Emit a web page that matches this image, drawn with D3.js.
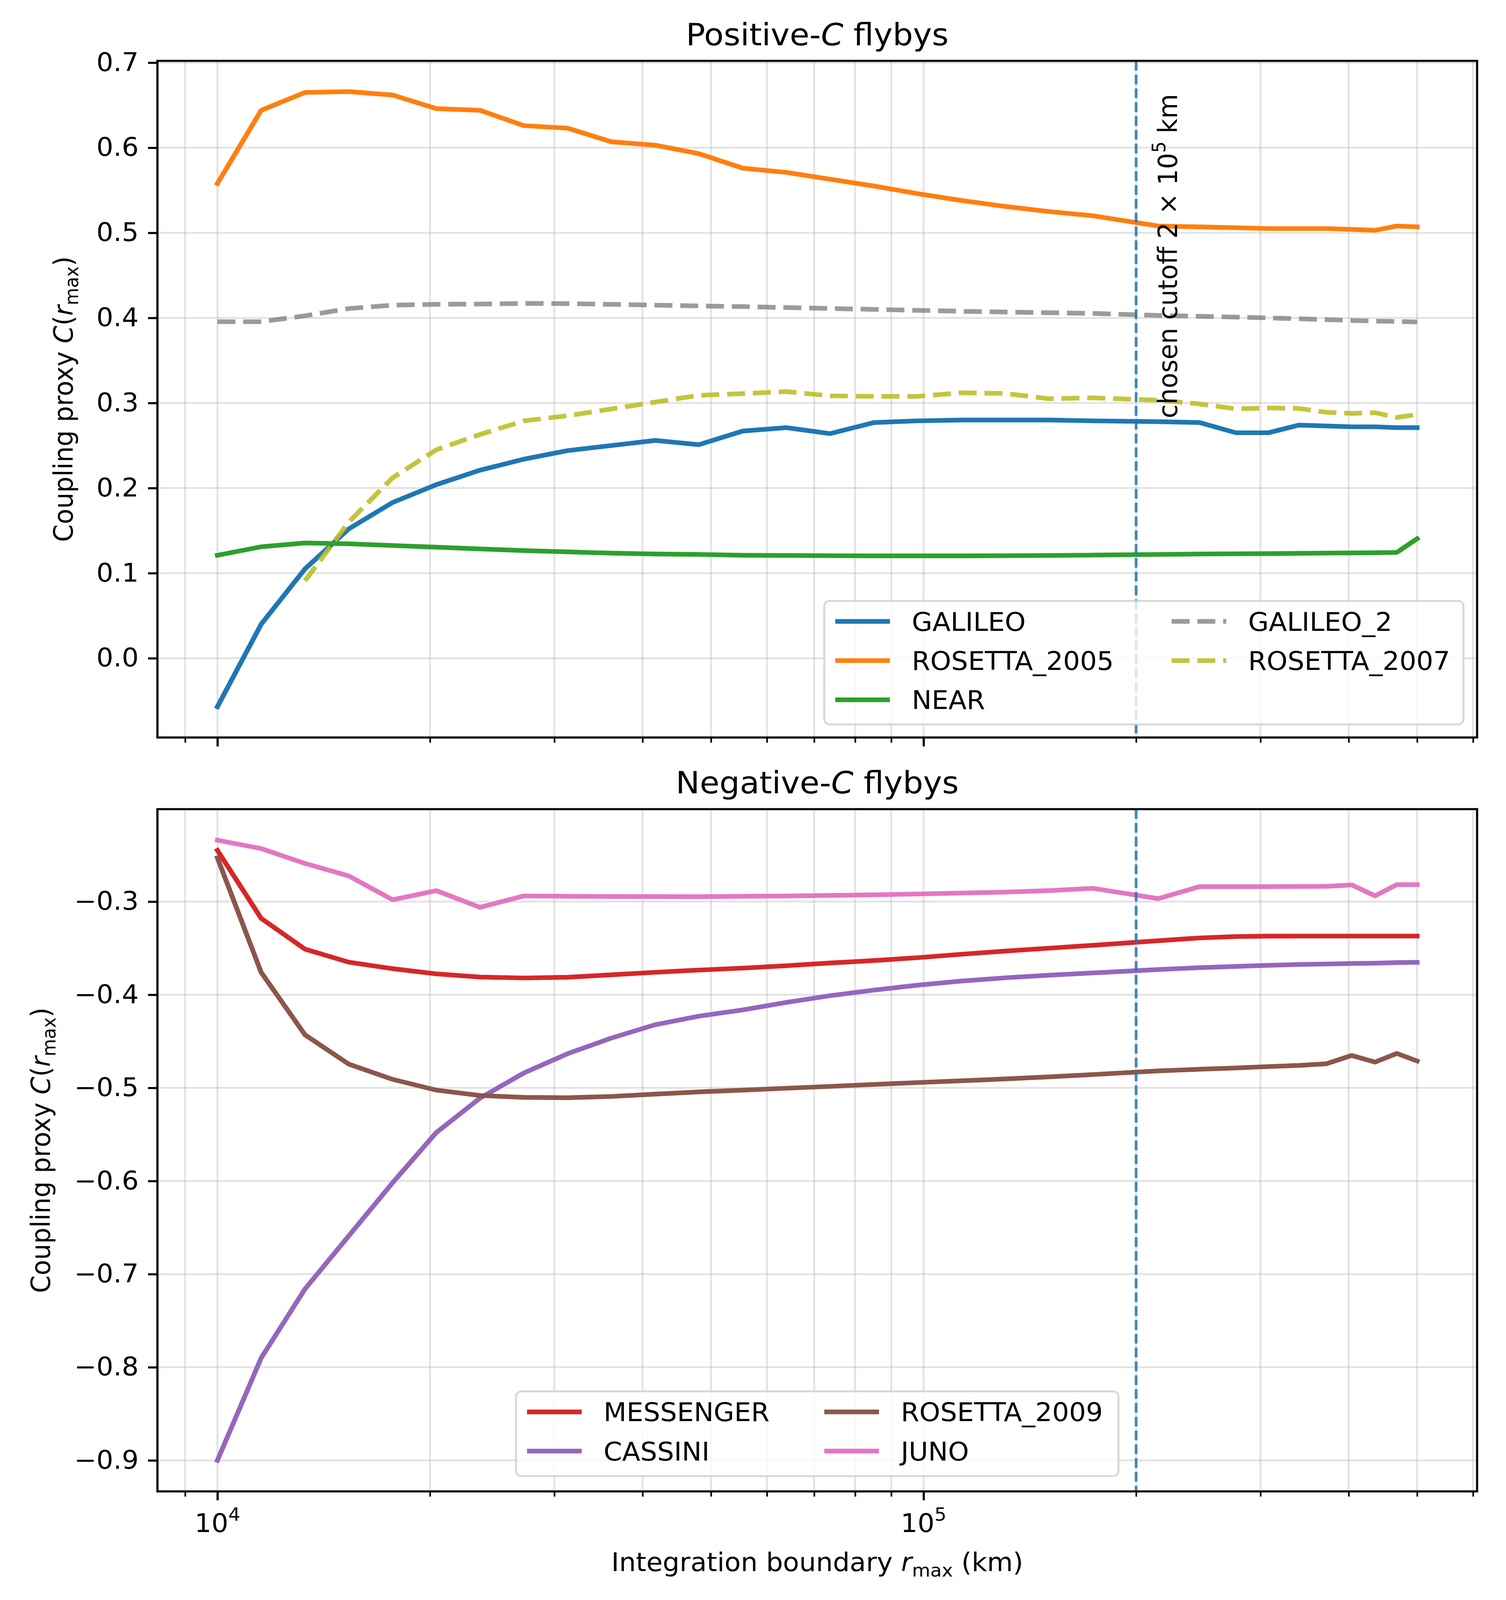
<!DOCTYPE html>
<html>
<head>
<meta charset="utf-8">
<script src="https://cdn.jsdelivr.net/npm/d3@7"></script>
<style>
    html, body { margin: 0; padding: 0; width: 100%; height: 100%; overflow: hidden; background: #fff; }
    #chart { display: block; width: 100vw; height: 100vh; }
    text { font-family: "DejaVu Sans", sans-serif; fill: #000; }
</style>
</head>
<body>
<svg id="chart"></svg>
<script>
// integration boundaries (km)
const rmax = [10000, 11534, 13304, 15345, 17699, 20414, 23546, 27159, 31326, 36132,
    41676, 48070, 55445, 63952, 73764, 85081, 98134, 113190, 130560, 150590,
    173690, 215000, 246000, 277000, 308000, 340000, 372000, 404000, 436000, 468000, 500000];

// positive-C flybys
const galileo = [-0.057, 0.040, 0.105, 0.152, 0.183, 0.204, 0.221, 0.234, 0.244, 0.250,
    0.256, 0.251, 0.267, 0.271, 0.264, 0.277, 0.279, 0.280, 0.280, 0.280,
    0.279, 0.278, 0.277, 0.265, 0.265, 0.274, 0.273, 0.272, 0.272, 0.271, 0.271];
const rosetta2005 = [0.558, 0.644, 0.665, 0.666, 0.662, 0.646, 0.644, 0.626, 0.623, 0.607,
    0.603, 0.593, 0.576, 0.571, 0.563, 0.555, 0.546, 0.538, 0.531, 0.525,
    0.520, 0.508, 0.507, 0.506, 0.505, 0.505, 0.505, 0.504, 0.503, 0.508, 0.507];
const near = [0.121, 0.131, 0.1355, 0.1345, 0.1325, 0.1305, 0.1285, 0.1265, 0.125, 0.1235,
    0.1225, 0.122, 0.121, 0.1208, 0.1205, 0.1203, 0.1203, 0.1203, 0.1205, 0.1208,
    0.1212, 0.122, 0.1225, 0.1228, 0.123, 0.1233, 0.1236, 0.1238, 0.124, 0.1244, 0.1405];
const galileo2 = [0.3955, 0.3955, 0.4025, 0.411, 0.415, 0.416, 0.4163, 0.417, 0.4168, 0.416,
    0.415, 0.4141, 0.4133, 0.4122, 0.4111, 0.410, 0.4089, 0.4078, 0.4069, 0.4061,
    0.4053, 0.4029, 0.4019, 0.401, 0.400, 0.399, 0.398, 0.397, 0.3963, 0.3958, 0.3952];
const rosetta2007 = [null, null, 0.091, 0.160, 0.212, 0.245, 0.263, 0.279, 0.285, 0.293,
    0.301, 0.309, 0.311, 0.3134, 0.3084, 0.3078, 0.3078, 0.312, 0.3112, 0.305,
    0.3061, 0.3032, 0.2989, 0.2931, 0.2942, 0.2936, 0.2891, 0.2878, 0.2886, 0.283, 0.2865];

// negative-C flybys
const messenger = [-0.245, -0.318, -0.351, -0.365, -0.372, -0.3776, -0.381, -0.382, -0.3812, -0.3786,
    -0.3759, -0.3735, -0.3714, -0.3688, -0.3659, -0.3633, -0.3602, -0.3565, -0.3531, -0.350,
    -0.3469, -0.342, -0.339, -0.3375, -0.3371, -0.337, -0.337, -0.337, -0.337, -0.337, -0.337];
const cassini = [-0.900, -0.790, -0.716, -0.659, -0.602, -0.548, -0.511, -0.484, -0.4633, -0.4465,
    -0.4322, -0.423, -0.4163, -0.4082, -0.401, -0.395, -0.3897, -0.3853, -0.3818, -0.379,
    -0.3766, -0.3729, -0.3709, -0.3696, -0.3684, -0.3675, -0.367, -0.3664, -0.3661, -0.3655, -0.3652];
const rosetta2009 = [-0.253, -0.376, -0.443, -0.4745, -0.4908, -0.5024, -0.5082, -0.5102, -0.5106, -0.5092,
    -0.5067, -0.5043, -0.5024, -0.5004, -0.4984, -0.4963, -0.4943, -0.4924, -0.4904, -0.4882,
    -0.4857, -0.4818, -0.480, -0.4786, -0.4771, -0.4759, -0.4741, -0.4652, -0.4723, -0.463, -0.4711];
const juno = [-0.234, -0.243, -0.259, -0.2724, -0.298, -0.2882, -0.3061, -0.2939, -0.2943, -0.2945,
    -0.2946, -0.2947, -0.2943, -0.294, -0.2933, -0.2927, -0.2918, -0.2908, -0.2898, -0.2882,
    -0.2857, -0.2968, -0.2839, -0.2839, -0.2839, -0.2838, -0.2836, -0.2821, -0.2938, -0.2818, -0.2818];

// ticks and the chosen cutoff
const topTicks = [0.0, 0.1, 0.2, 0.3, 0.4, 0.5, 0.6, 0.7];
const bottomTicks = [-0.9, -0.8, -0.7, -0.6, -0.5, -0.4, -0.3];
const xMajor = [1e4, 1e5];
const xMinor = [9e3, 2e4, 3e4, 4e4, 5e4, 6e4, 7e4, 8e4, 9e4, 2e5, 3e5, 4e5, 5e5, 6e5];
const cutoff = 2e5;

const positiveSeries = [
    { name: "GALILEO", values: galileo, color: "#1f77b4", dashed: false },
    { name: "ROSETTA_2005", values: rosetta2005, color: "#ff7f0e", dashed: false },
    { name: "NEAR", values: near, color: "#2ca02c", dashed: false },
    { name: "GALILEO_2", values: galileo2, color: "#7f7f7f", dashed: true },
    { name: "ROSETTA_2007", values: rosetta2007, color: "#bcbd22", dashed: true }
];
const negativeSeries = [
    { name: "MESSENGER", values: messenger, color: "#d62728", dashed: false },
    { name: "CASSINI", values: cassini, color: "#9467bd", dashed: false },
    { name: "ROSETTA_2009", values: rosetta2009, color: "#8c564b", dashed: false },
    { name: "JUNO", values: juno, color: "#e377c2", dashed: false }
];

const W = 3855, H = 4287;
const left = 403, right = 3781;
const FS = 68;       // tick / label / legend font size
const LW = 12.5;     // data line width
// drawn in a fixed 3855x4287 coordinate system, stretched to whatever viewport we get
const svg = d3.select("#chart")
    .attr("viewBox", `0 0 ${W} ${H}`)
    .attr("preserveAspectRatio", "none");
svg.append("rect").attr("width", W).attr("height", H).attr("fill", "#fff");

// log x-scale with matplotlib style 5% margins
const lo = Math.log10(d3.min(rmax)), hi = Math.log10(d3.max(rmax));
const pad = 0.05 * (hi - lo);
const x = d3.scaleLog()
    .domain([10 ** (lo - pad), 10 ** (hi + pad)])
    .range([left, right]);

function yScale(series, top, bottom) {
    const all = series.flatMap(s => s.values.filter(v => v != null));
    const mn = d3.min(all), mx = d3.max(all);
    const m = 0.05 * (mx - mn);
    return d3.scaleLinear().domain([mn - m, mx + m]).range([bottom, top]);
}

function styleLine(sel, s) {
    sel.attr("fill", "none")
        .attr("stroke", s.color)
        .attr("stroke-width", LW)
        .attr("stroke-linejoin", "round")
        .attr("stroke-linecap", s.dashed ? "butt" : "square")
        .attr("stroke-dasharray", s.dashed ? "46 20" : null)
        .attr("stroke-opacity", s.dashed ? (s.color === "#7f7f7f" ? 0.78 : 0.88) : 1);
}

function drawPanel(cfg) {
    const { top, bottom, series, ticks, idx } = cfg;
    const y = yScale(series, top, bottom);
    const g = svg.append("g");

    g.append("clipPath").attr("id", "clip" + idx)
        .append("rect").attr("x", left).attr("y", top)
        .attr("width", right - left).attr("height", bottom - top);

    // grid
    const grid = g.append("g").attr("stroke", "#b0b0b0").attr("stroke-opacity", 0.35).attr("stroke-width", 5);
    grid.selectAll(".gy").data(ticks).join("line")
        .attr("x1", left).attr("x2", right)
        .attr("y1", d => y(d)).attr("y2", d => y(d));
    grid.selectAll(".gx").data(xMajor.concat(xMinor)).join("line")
        .attr("x1", d => x(d)).attr("x2", d => x(d))
        .attr("y1", top).attr("y2", bottom);

    // data lines
    const line = d3.line()
        .defined(d => d[1] != null)
        .x(d => x(d[0]))
        .y(d => y(d[1]));
    const lines = g.append("g").attr("clip-path", `url(#clip${idx})`);
    series.forEach(s => {
        lines.append("path")
            .attr("d", line(rmax.map((r, i) => [r, s.values[i]])))
            .call(styleLine, s);
    });

    // chosen cutoff
    g.append("line")
        .attr("x1", x(cutoff)).attr("x2", x(cutoff))
        .attr("y1", top).attr("y2", bottom)
        .attr("stroke", "#1f77b4").attr("stroke-opacity", 0.85)
        .attr("stroke-width", 7).attr("stroke-dasharray", "26 11");

    // y axis
    g.append("g")
        .attr("transform", `translate(${left},0)`)
        .call(d3.axisLeft(y).tickValues(ticks).tickSize(24).tickPadding(24)
            .tickFormat(d3.format(".1f")))
        .call(a => a.select(".domain").remove())
        .call(a => a.selectAll(".tick line").attr("stroke-width", 5.6))
        .call(a => a.selectAll(".tick text").attr("font-size", FS)
            .attr("font-family", "DejaVu Sans").attr("fill", "#000"));

    // x axis ticks
    const xa = g.append("g").attr("transform", `translate(0,${bottom})`);
    xa.append("g")
        .call(d3.axisBottom(x).tickValues(xMajor).tickSize(24).tickFormat(""))
        .call(a => a.select(".domain").remove())
        .call(a => a.selectAll(".tick line").attr("stroke-width", 5.6));
    xa.append("g")
        .call(d3.axisBottom(x).tickValues(xMinor).tickSize(14).tickFormat(""))
        .call(a => a.select(".domain").remove())
        .call(a => a.selectAll(".tick line").attr("stroke-width", 4.2));

    // spines
    g.append("rect")
        .attr("x", left).attr("y", top)
        .attr("width", right - left).attr("height", bottom - top)
        .attr("fill", "none").attr("stroke", "#000").attr("stroke-width", 5.6);

    // title
    const t = g.append("text")
        .attr("x", (left + right) / 2).attr("y", top - 42)
        .attr("text-anchor", "middle").attr("font-size", 82);
    t.append("tspan").text(cfg.title);
    t.append("tspan").attr("font-style", "italic").text("C");
    t.append("tspan").text(" flybys");

    // y label
    const yl = g.append("text")
        .attr("transform", `translate(${cfg.ylabelX},${(top + bottom) / 2}) rotate(-90)`)
        .attr("text-anchor", "middle").attr("font-size", FS);
    yl.append("tspan").text("Coupling proxy ");
    yl.append("tspan").attr("font-style", "italic").text("C");
    yl.append("tspan").text("(");
    yl.append("tspan").attr("font-style", "italic").text("r");
    yl.append("tspan").attr("font-size", 48).attr("dy", 14).text("max");
    yl.append("tspan").attr("dy", -14).text(")");

    // legend
    const L = cfg.legend;
    const lg = g.append("g");
    lg.append("rect")
        .attr("x", L.x).attr("y", L.y).attr("width", L.w).attr("height", L.h)
        .attr("rx", 14).attr("ry", 14)
        .attr("fill", "#fff").attr("fill-opacity", 0.8)
        .attr("stroke", "#cccccc").attr("stroke-opacity", 0.8).attr("stroke-width", 5);
    series.forEach((s, i) => {
        const col = i < L.perCol ? 0 : 1;
        const row = i < L.perCol ? i : i - L.perCol;
        const hx = L.cols[col];
        const cy = L.y + 55 + row * 105;
        lg.append("line")
            .attr("x1", hx).attr("x2", hx + 140)
            .attr("y1", cy).attr("y2", cy)
            .call(styleLine, s)
            .attr("stroke-linecap", "butt");
        lg.append("text")
            .attr("x", hx + 196).attr("y", cy + 25)
            .attr("font-size", FS).text(s.name);
    });

    return y;
}

const yTop = drawPanel({
    idx: 0, top: 163, bottom: 1976, series: positiveSeries, ticks: topTicks,
    title: "Positive-", ylabelX: 186,
    legend: { x: 2110, y: 1610, w: 1636, h: 331, perCol: 3, cols: [2138, 2999] }
});
drawPanel({
    idx: 1, top: 2168, bottom: 3996, series: negativeSeries, ticks: bottomTicks,
    title: "Negative-", ylabelX: 128,
    legend: { x: 1321, y: 3728, w: 1542, h: 227, perCol: 2, cols: [1349, 2110] }
});

// cutoff annotation
const ct = svg.append("text")
    .attr("transform", `translate(${x(cutoff) + 105},${yTop(0.282)}) rotate(-90)`)
    .attr("font-size", FS);
ct.append("tspan").text("chosen cutoff 2 \u00d7 10");
ct.append("tspan").attr("font-size", 48).attr("dy", -30).text("5");
ct.append("tspan").attr("dy", 30).text(" km");

// x tick labels (bottom panel)
xMajor.forEach(v => {
    const tl = svg.append("text")
        .attr("x", x(v)).attr("y", 4105)
        .attr("text-anchor", "middle").attr("font-size", FS);
    tl.append("tspan").text("10");
    tl.append("tspan").attr("font-size", 48).attr("dy", -30).text(Math.log10(v).toFixed(0));
});

// x label
const xl = svg.append("text")
    .attr("x", (left + right) / 2).attr("y", 4210)
    .attr("text-anchor", "middle").attr("font-size", FS);
xl.append("tspan").text("Integration boundary ");
xl.append("tspan").attr("font-style", "italic").text("r");
xl.append("tspan").attr("font-size", 48).attr("dy", 14).text("max");
xl.append("tspan").attr("dy", -14).text(" (km)");
</script>
</body>
</html>
